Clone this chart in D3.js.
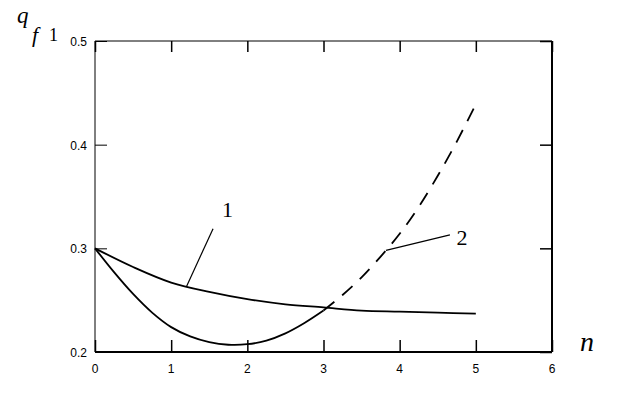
<!DOCTYPE html>
<html>
<head>
<meta charset="utf-8">
<script src="https://cdn.jsdelivr.net/npm/d3@7"></script>
<style>
	body { margin: 0; background: #fff; }
	svg { display: block; }
	.tick-label { font-family: 'Liberation Sans', sans-serif; font-size: 12px; fill: #000; }
	.title { font-family: 'Liberation Serif', serif; fill: #000; }
</style>
</head>
<body>
<svg id="chart"></svg>
<script>
// values
const curve1N = [0, 0.5, 1, 1.5, 2, 2.5, 3, 3.5, 4, 4.5, 5];
const curve1Val = [0.300, 0.282, 0.267, 0.258, 0.251, 0.246, 0.243, 0.240, 0.239, 0.238, 0.237];

const curve2N = [0, 0.25, 0.5, 0.75, 1, 1.25, 1.5, 1.75, 2, 2.25, 2.5, 2.75, 3, 3.25, 3.5, 3.75, 4, 4.25, 4.5, 4.75, 5];
const curve2Val = [0.300, 0.277, 0.256, 0.238, 0.224, 0.215, 0.2095, 0.207, 0.2075, 0.211, 0.218, 0.228, 0.240, 0.255, 0.272, 0.292, 0.314, 0.340, 0.370, 0.403, 0.439];
const curve2DashFrom = 3;

const xTicks = [0, 1, 2, 3, 4, 5, 6];
const yTicks = [0.2, 0.3, 0.4, 0.5];

// curve labels: text position and leader line, in data units
const labels = [
	{ text: '1', n: 1.74, v: 0.330, from: [1.55, 0.319], to: [1.20, 0.263] },
	{ text: '2', n: 4.82, v: 0.303, from: [4.66, 0.313], to: [3.82, 0.298] },
];

const width = 631;
const height = 395;
const margin = { top: 41, right: 79, bottom: 43, left: 95 };

const svg = d3.select('#chart')
	.attr('width', width)
	.attr('height', height);

const x = d3.scaleLinear().domain([0, 6]).range([margin.left, width - margin.right]);
const y = d3.scaleLinear().domain([0.2, 0.5]).range([height - margin.bottom, margin.top]);

// ticks inside the frame, on all four sides
svg.append('g')
	.attr('transform', `translate(0, ${ y(0.2) })`)
	.call(d3.axisTop(x).tickValues(xTicks).tickSize(12).tickFormat(''))
	.call(g => g.select('.domain').remove())
	.selectAll('line').attr('stroke-width', 1.5);

svg.append('g')
	.attr('transform', `translate(0, ${ y(0.5) })`)
	.call(d3.axisBottom(x).tickValues(xTicks).tickSize(11).tickFormat(''))
	.call(g => g.select('.domain').remove())
	.selectAll('line').attr('stroke-width', 1.5);

svg.append('g')
	.attr('transform', `translate(${ x(0) }, 0)`)
	.call(d3.axisRight(y).tickValues(yTicks).tickSize(12).tickFormat(''))
	.call(g => g.select('.domain').remove())
	.selectAll('line').attr('stroke-width', 1);

svg.append('g')
	.attr('transform', `translate(${ x(6) }, 0)`)
	.call(d3.axisLeft(y).tickValues(yTicks).tickSize(12).tickFormat(''))
	.call(g => g.select('.domain').remove())
	.selectAll('line').attr('stroke-width', 1.5);

// frame
const frame = [
	[[0, 0.5], [6, 0.5], 1],
	[[0, 0.2], [0, 0.5], 1],
	[[0, 0.2], [6, 0.2], 2],
	[[6, 0.2], [6, 0.5], 2],
];
frame.forEach(([a, b, w]) => {
	svg.append('line')
		.attr('x1', x(a[0])).attr('y1', y(a[1]))
		.attr('x2', x(b[0])).attr('y2', y(b[1]))
		.attr('stroke', '#000')
		.attr('stroke-width', w);
});

// tick labels
svg.append('g').selectAll('text')
	.data(xTicks)
	.join('text')
		.attr('class', 'tick-label')
		.attr('x', d => x(d))
		.attr('y', y(0.2) + 21)
		.attr('text-anchor', 'middle')
		.text(d => d);

svg.append('g').selectAll('text')
	.data(yTicks)
	.join('text')
		.attr('class', 'tick-label')
		.attr('x', x(0) - 8)
		.attr('y', d => y(d) + 5)
		.attr('text-anchor', 'end')
		.text(d => d.toFixed(1));

// curves
const line = d3.line()
	.x(d => x(d[0]))
	.y(d => y(d[1]))
	.curve(d3.curveCatmullRom);

const c1 = curve1N.map((n, i) => [n, curve1Val[i]]);
const c2 = curve2N.map((n, i) => [n, curve2Val[i]]);

svg.append('path')
	.datum(c1)
	.attr('fill', 'none')
	.attr('stroke', '#000')
	.attr('stroke-width', 1.8)
	.attr('d', line);

svg.append('path')
	.datum(c2.filter(d => d[0] <= curve2DashFrom))
	.attr('fill', 'none')
	.attr('stroke', '#000')
	.attr('stroke-width', 1.8)
	.attr('d', line);

svg.append('path')
	.datum(c2.filter(d => d[0] >= curve2DashFrom))
	.attr('fill', 'none')
	.attr('stroke', '#000')
	.attr('stroke-width', 1.8)
	.attr('stroke-dasharray', '14,10')
	.attr('d', line);

// curve labels
labels.forEach(l => {
	svg.append('line')
		.attr('x1', x(l.from[0])).attr('y1', y(l.from[1]))
		.attr('x2', x(l.to[0])).attr('y2', y(l.to[1]))
		.attr('stroke', '#000')
		.attr('stroke-width', 1.2);
	svg.append('text')
		.attr('class', 'title')
		.attr('x', x(l.n))
		.attr('y', y(l.v))
		.attr('text-anchor', 'middle')
		.attr('font-size', 22)
		.text(l.text);
});

// axis titles
svg.append('text')
	.attr('class', 'title')
	.attr('x', 17).attr('y', 23)
	.attr('font-size', 23)
	.attr('font-style', 'italic')
	.text('q');
svg.append('text')
	.attr('class', 'title')
	.attr('x', 32).attr('y', 42)
	.attr('font-size', 22)
	.attr('font-style', 'italic')
	.text('f');
svg.append('text')
	.attr('class', 'title')
	.attr('x', 49).attr('y', 41)
	.attr('font-size', 18)
	.text('1');
svg.append('text')
	.attr('class', 'title')
	.attr('x', 580).attr('y', 351)
	.attr('font-size', 28)
	.attr('font-style', 'italic')
	.text('n');
</script>
</body>
</html>
